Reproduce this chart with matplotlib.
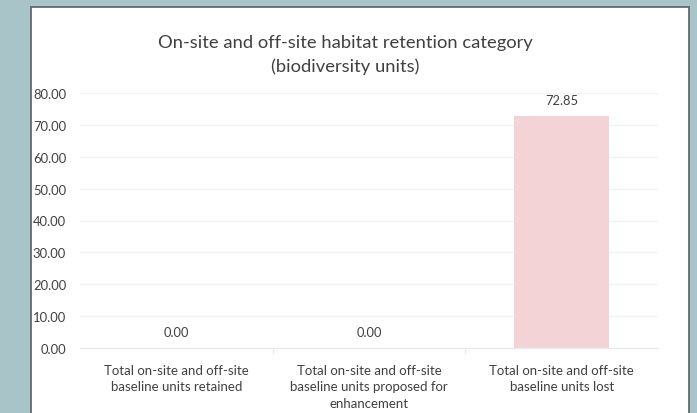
import matplotlib.pyplot as plt
from matplotlib.patches import Rectangle

categories = [
    'Total on-site and off-site\nbaseline units retained',
    'Total on-site and off-site\nbaseline units proposed for\nenhancement',
    'Total on-site and off-site\nbaseline units lost',
]
values = [0.00, 0.00, 72.85]
yticks = [0, 10, 20, 30, 40, 50, 60, 70, 80]
title = 'On-site and off-site habitat retention category\n(biodiversity units)'

plt.rcParams['font.family'] = ['Lato', 'DejaVu Sans']
text_color = '#404040'
bar_color = '#f4d3d6'
grid_color = '#eef3f3'

fig = plt.figure(figsize=(6.97, 4.14), dpi=100)
fig.patch.set_facecolor('#a9c4c9')

# white chart panel with dark border, kept behind the axes
panel = Rectangle((31 / 697, -0.05), (689 - 31) / 697, 1.05 - 8 / 414,
                  transform=fig.transFigure, facecolor='white',
                  edgecolor='#5a5f63', linewidth=1.2, zorder=-10)
fig.patches.append(panel)

ax = fig.add_axes([80 / 697, 1 - 349 / 414, (658 - 80) / 697, (349 - 94) / 414])
ax.set_facecolor('none')

x = range(len(categories))
bars = ax.bar(x, values, width=0.49, color=bar_color, zorder=2)

for xi, v in zip(x, values):
    ax.annotate(f'{v:.2f}', (xi, v), xytext=(0, 7), textcoords='offset points',
                ha='center', va='bottom', fontsize=9.3, color=text_color)

ax.set_xlim(-0.5, len(categories) - 0.5)
ax.set_ylim(0, 80)
ax.set_yticks(yticks)
ax.set_yticklabels([f'{t:.2f}' for t in yticks], fontsize=9.4, color=text_color)
ax.yaxis.grid(True, color=grid_color, linewidth=1, zorder=0)
ax.set_axisbelow(True)
ax.tick_params(axis='y', length=0, pad=10)

ax.set_xticks([0.5, 1.5])
ax.set_xticklabels([])
ax.tick_params(axis='x', length=4, color='#e6ecec', direction='out')
for xi, lab in zip(x, categories):
    ax.text(xi, -0.062, lab, transform=ax.get_xaxis_transform(), ha='center',
            va='top', fontsize=9.5, color=text_color, linespacing=1.45)

for s in ['top', 'right', 'left']:
    ax.spines[s].set_visible(False)
ax.spines['bottom'].set_color('#e6ecec')

fig.text(345 / 697, 1 - 55 / 414, title, ha='center', va='center',
         fontsize=13.2, color=text_color, linespacing=1.6)

fig.savefig('out.png', dpi=100)
